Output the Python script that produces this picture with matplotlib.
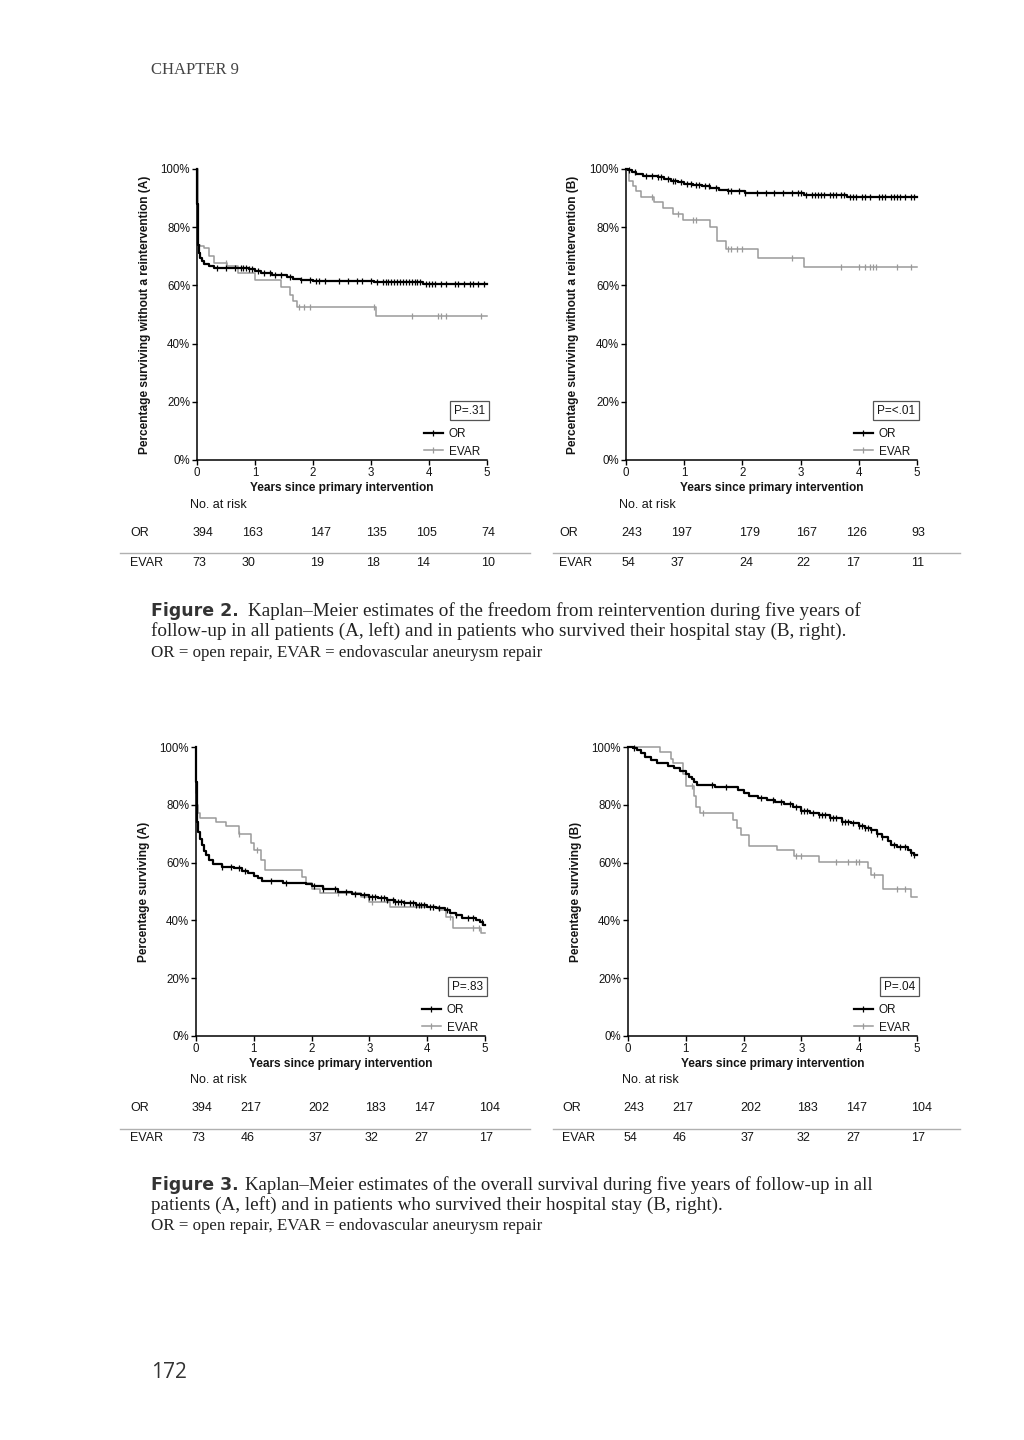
import numpy as np
import matplotlib
matplotlib.use("Agg")
import matplotlib.pyplot as plt
from matplotlib.lines import Line2D
from matplotlib.transforms import blended_transform_factory

plt.rcParams['font.family'] = ['Liberation Sans', 'DejaVu Sans']

# --- data: figure 2 (freedom from reintervention) ---
or2a_t = [0, 0.005, 0.01, 0.02, 0.03, 0.05, 0.08, 0.12, 0.2, 0.3, 0.9, 1.0, 1.1, 1.3, 1.55, 1.65, 1.8, 2.0, 3.05, 3.9, 5.0]
or2a_s = [100, 88, 80, 74, 71, 69.5, 68.5, 67.5, 66.8, 66, 65.5, 64.8, 64.2, 63.5, 63, 62.3, 61.8, 61.5, 61, 60.4, 60.4]
or2a_c = [0.35, 0.5, 0.65, 0.75, 0.8, 0.85, 0.9, 0.95, 1.05, 1.15, 1.25, 1.35, 1.45, 1.6, 1.8, 1.95,
          2.05, 2.1, 2.2, 2.45, 2.6, 2.75, 2.85, 3.0, 3.1, 3.2, 3.25, 3.3, 3.35, 3.4, 3.45, 3.5, 3.55,
          3.6, 3.65, 3.7, 3.75, 3.8, 3.85, 3.95, 4.0, 4.05, 4.1, 4.2, 4.3, 4.45, 4.5, 4.6, 4.7, 4.75, 4.85, 4.95]
evar2a_t = [0, 0.01, 0.06, 0.12, 0.2, 0.3, 0.52, 0.7, 1.0, 1.45, 1.6, 1.66, 1.73, 3.08, 5.0]
evar2a_s = [100, 74, 73.5, 72.8, 70, 67.7, 66.5, 64.2, 61.9, 59.5, 56.8, 54.5, 52.5, 49.6, 49.6]
evar2a_c = [0.5, 1.75, 1.85, 1.95, 3.05, 3.7, 4.15, 4.2, 4.3, 4.9]

or2b_t = [0, 0.04, 0.1, 0.18, 0.3, 0.55, 0.65, 0.78, 0.9, 1.0, 1.15, 1.3, 1.45, 1.6, 1.75, 2.05, 3.05, 3.8, 5.0]
or2b_s = [100, 99.5, 99, 98.3, 97.6, 97.3, 96.7, 96, 95.5, 95, 94.5, 94, 93.4, 92.8, 92.3, 91.6, 91, 90.3, 90.3]
or2b_c = [0.05, 0.15, 0.35, 0.45, 0.55, 0.6, 0.72, 0.8, 0.85, 0.95, 1.05, 1.12, 1.2, 1.25, 1.35, 1.42,
          1.55, 1.75, 1.8, 1.95, 2.05, 2.25, 2.4, 2.55, 2.7, 2.85, 2.95, 3.0, 3.1, 3.2, 3.25, 3.3, 3.35,
          3.4, 3.5, 3.55, 3.6, 3.7, 3.75, 3.85, 3.9, 3.95, 4.05, 4.1, 4.2, 4.35, 4.4, 4.45, 4.55, 4.6,
          4.65, 4.7, 4.8, 4.9, 4.95]
evar2b_t = [0, 0.06, 0.12, 0.17, 0.25, 0.48, 0.64, 0.81, 0.98, 1.44, 1.56, 1.71, 2.27, 3.06, 5.0]
evar2b_s = [100, 96, 94, 92.5, 90.5, 88.6, 86.6, 84.6, 82.6, 80.1, 75.1, 72.6, 69.5, 66.3, 66.3]
evar2b_c = [0.45, 0.9, 1.15, 1.2, 1.75, 1.8, 1.9, 2.0, 2.85, 3.7, 4.0, 4.1, 4.2, 4.25, 4.3, 4.65, 4.9]

# --- data: figure 3 (overall survival) ---
or3a_t = [0, 0.005, 0.01, 0.02, 0.04, 0.07, 0.1, 0.13, 0.17, 0.22, 0.3, 0.45, 0.65, 0.8, 0.9, 1.0, 1.08,
          1.15, 1.5, 1.9, 2.0, 2.2, 2.45, 2.7, 2.85, 3.0, 3.15, 3.3, 3.45, 3.6, 3.8, 4.0, 4.15, 4.3, 4.4,
          4.5, 4.6, 4.85, 4.92, 4.97, 5.0]
or3a_s = [100, 88, 80, 74, 70.5, 68, 66, 64, 62.5, 61, 59.5, 58.5, 58, 57, 56.5, 55.5, 54.5, 53.5, 53,
          52.6, 51.8, 50.8, 50, 49.3, 48.7, 48.2, 47.7, 47, 46.5, 46, 45.3, 44.7, 44.2, 43.5, 42.6, 41.8,
          40.7, 40.2, 39.3, 38.5, 38.5]
or3a_c = [0.45, 0.6, 0.75, 0.85, 1.3, 1.55, 2.05, 2.2, 2.4, 2.6, 2.75, 2.9, 3.0, 3.05, 3.1, 3.2, 3.25,
          3.3, 3.4, 3.45, 3.5, 3.55, 3.6, 3.7, 3.75, 3.8, 3.85, 3.9, 3.95, 4.05, 4.1, 4.2, 4.35, 4.5,
          4.7, 4.8, 4.95]
evar3a_t = [0, 0.005, 0.02, 0.04, 0.07, 0.35, 0.52, 0.75, 0.95, 1.0, 1.13, 1.2, 1.83, 1.9, 2.0, 2.15,
            2.85, 3.0, 3.35, 4.2, 4.32, 4.45, 4.93, 5.0]
evar3a_s = [100, 84, 80, 77, 75.5, 74.1, 72.7, 70, 66.7, 64.2, 61, 57.3, 55, 53, 51, 49.5, 48, 46.2,
            44.8, 43.5, 41.3, 37.5, 35.5, 35.5]
evar3a_c = [0.75, 1.05, 2.45, 3.05, 4.1, 4.4, 4.8, 4.9]

or3b_t = [0, 0.08, 0.15, 0.22, 0.3, 0.4, 0.5, 0.7, 0.8, 0.9, 1.0, 1.05, 1.1, 1.15, 1.2, 1.5, 1.9, 2.0,
          2.1, 2.25, 2.4, 2.55, 2.7, 2.85, 3.0, 3.15, 3.3, 3.5, 3.7, 3.85, 4.0, 4.1, 4.2, 4.3, 4.4, 4.5,
          4.55, 4.65, 4.85, 4.9, 4.95, 5.0]
or3b_s = [100, 99.5, 98.8, 97.8, 96.5, 95.5, 94.3, 93.5, 92.7, 91.8, 90.5, 89.7, 88.8, 87.8, 86.8, 86,
          85.2, 84.2, 83.2, 82.3, 81.7, 81, 80.2, 79.3, 78, 77.2, 76.5, 75.5, 74.2, 73.6, 72.7, 72, 71.2,
          70, 69, 67.5, 66.2, 65.3, 64.5, 63.3, 62.5, 62.5]
or3b_c = [0.1, 1.45, 1.7, 2.3, 2.5, 2.65, 2.8, 2.9, 3.0, 3.05, 3.1, 3.2, 3.3, 3.35, 3.4, 3.5, 3.55, 3.6,
          3.7, 3.75, 3.8, 3.9, 4.0, 4.05, 4.1, 4.15, 4.2, 4.3, 4.4, 4.6, 4.7, 4.8, 4.9, 4.95]
evar3b_t = [0, 0.55, 0.75, 0.78, 0.95, 1.0, 1.15, 1.17, 1.25, 1.82, 1.88, 1.95, 2.1, 2.58, 2.88, 3.3,
            4.15, 4.2, 4.42, 4.9, 5.0]
evar3b_s = [100, 98.2, 96, 94.4, 90.5, 86.6, 83, 79.4, 77.3, 74.8, 72, 69.6, 65.8, 64.2, 62.3, 60.2,
            58, 55.7, 50.7, 48, 48]
evar3b_c = [1.1, 1.3, 2.9, 3.0, 3.6, 3.8, 3.95, 4.0, 4.25, 4.65, 4.8]

# --- number at risk ---
risk_or_2a = [394, 163, 147, 135, 105, 74]
risk_evar_2a = [73, 30, 19, 18, 14, 10]
risk_or_2b = [243, 197, 179, 167, 126, 93]
risk_evar_2b = [54, 37, 24, 22, 17, 11]
risk_or_3a = [394, 217, 202, 183, 147, 104]
risk_evar_3a = [73, 46, 37, 32, 27, 17]
risk_or_3b = [243, 217, 202, 183, 147, 104]
risk_evar_3b = [54, 46, 37, 32, 27, 17]

p_2a, p_2b, p_3a, p_3b = "P=.31", "P=<.01", "P=.83", "P=.04"

ylab_2a = "Percentage surviving without a reintervention (A)"
ylab_2b = "Percentage surviving without a reintervention (B)"
ylab_3a = "Percentage surviving (A)"
ylab_3b = "Percentage surviving (B)"
xlab = "Years since primary intervention"

# column positions of the risk table (years, left edge of the number)
risk_cols = [-0.08, 0.77, 1.95, 2.92, 3.78, 4.9]

W, H = 1024, 1440
fig = plt.figure(figsize=(W / 100, H / 100), dpi=100)
fig.patch.set_facecolor("white")

OR_COL = "black"
EVAR_COL = "#9a9a9a"
TXT = "#151515"


def rect(l, r, t, b):
    return [l / W, 1 - b / H, (r - l) / W, (b - t) / H]


def fy(y):
    return 1 - y / H


def km_panel(box, curves, ylabel, ptxt):
    ax = fig.add_axes(rect(*box))
    for t, s, c, col, lw in curves:
        z = 3 if col == OR_COL else 2
        ax.step(t, s, where="post", color=col, lw=lw, clip_on=False, zorder=z)
        t_arr, s_arr = np.array(t), np.array(s)
        idx = np.searchsorted(t_arr, c, side="right") - 1
        ax.plot(c, s_arr[idx], ls="none", marker="|", ms=4, mew=0.9, color=col,
                clip_on=False, zorder=z)
    ax.set_xlim(0, 5)
    ax.set_ylim(0, 100)
    ax.set_xticks(range(6))
    ax.set_yticks(range(0, 101, 20))
    ax.set_yticklabels([f"{v}%" for v in range(0, 101, 20)])
    for sp in ["top", "right"]:
        ax.spines[sp].set_visible(False)
    for sp in ["left", "bottom"]:
        ax.spines[sp].set_linewidth(1.1)
    ax.tick_params(labelsize=8.3, length=3.5, width=1.0, pad=1.5, color="black", labelcolor=TXT)
    ax.set_ylabel(ylabel, fontsize=8.6, fontweight="bold", color=TXT)
    ax.yaxis.set_label_coords(-0.16, 0.5)
    ax.set_xlabel(xlab, fontsize=8.6, fontweight="bold", labelpad=2, color=TXT)
    ax.patch.set_alpha(0)
    ax.text(0.993, 0.17, ptxt, transform=ax.transAxes, ha="right", va="center", fontsize=8.5,
            color=TXT, bbox=dict(boxstyle="square,pad=0.3", fc="white", ec="#555", lw=0.9))
    h1 = Line2D([], [], color=OR_COL, lw=1.6, marker="|", ms=4, mew=0.9)
    h2 = Line2D([], [], color=EVAR_COL, lw=1.1, marker="|", ms=4, mew=0.9)
    leg = ax.legend([h1, h2], ["OR", "EVAR"], loc="lower right", bbox_to_anchor=(1.0, -0.016),
                    frameon=False, fontsize=8.5, handlelength=1.6, handletextpad=0.5,
                    labelspacing=0.45, borderaxespad=0.2, numpoints=1)
    for t in leg.get_texts():
        t.set_color(TXT)
    return ax


def risk_table(ax, or_vals, evar_vals, y_head, y_or, y_line, y_evar, lab_x, x_head, line_x):
    tr = blended_transform_factory(ax.transData, fig.transFigure)
    fs = 9
    fig.text(x_head / W, fy(y_head), "No. at risk", fontsize=fs, va="center", ha="left", color=TXT)
    fig.text(lab_x / W, fy(y_or), "OR", fontsize=fs, va="center", ha="left", color=TXT)
    fig.text(lab_x / W, fy(y_evar), "EVAR", fontsize=fs, va="center", ha="left", color=TXT)
    for x, a, b in zip(risk_cols, or_vals, evar_vals):
        ax.text(x, fy(y_or), str(a), transform=tr, fontsize=fs, va="center", ha="left", color=TXT)
        ax.text(x, fy(y_evar), str(b), transform=tr, fontsize=fs, va="center", ha="left", color=TXT)
    fig.add_artist(Line2D([line_x[0] / W, line_x[1] / W], [fy(y_line), fy(y_line)],
                          transform=fig.transFigure, color="#b0b0b0", lw=1.0))


# --- figure 2 panels ---
ax2a = km_panel((197, 487, 169, 460),
                [(or2a_t, or2a_s, or2a_c, OR_COL, 1.6), (evar2a_t, evar2a_s, evar2a_c, EVAR_COL, 1.1)],
                ylab_2a, p_2a)
risk_table(ax2a, risk_or_2a, risk_evar_2a, 505, 533, 553, 563, 130, 190, (120, 530))
ax2b = km_panel((626, 917, 169, 460),
                [(or2b_t, or2b_s, or2b_c, OR_COL, 1.6), (evar2b_t, evar2b_s, evar2b_c, EVAR_COL, 1.1)],
                ylab_2b, p_2b)
risk_table(ax2b, risk_or_2b, risk_evar_2b, 505, 533, 553, 563, 559, 619, (553, 960))

# --- figure 3 panels ---
ax3a = km_panel((196, 485, 747, 1036),
                [(or3a_t, or3a_s, or3a_c, OR_COL, 1.6), (evar3a_t, evar3a_s, evar3a_c, EVAR_COL, 1.1)],
                ylab_3a, p_3a)
risk_table(ax3a, risk_or_3a, risk_evar_3a, 1080, 1108, 1129, 1138, 130, 190, (120, 530))
ax3b = km_panel((628, 917, 747, 1036),
                [(or3b_t, or3b_s, or3b_c, OR_COL, 1.6), (evar3b_t, evar3b_s, evar3b_c, EVAR_COL, 1.1)],
                ylab_3b, p_3b)
risk_table(ax3b, risk_or_3b, risk_evar_3b, 1080, 1108, 1129, 1138, 562, 622, (553, 960))

# --- page text ---
serif = ["Liberation Serif", "DejaVu Serif"]
fig.text(151 / W, fy(70), "CHAPTER 9", family=serif, fontsize=12, color="#444", va="center")
fig.text(151 / W, fy(1372), "172", family=["Open Sans", "DejaVu Sans"], fontsize=15, color="#333",
         va="center")

cap_col = "#222"
cap_fs = 13.8
fig.text(151 / W, fy(611), "Figure 2.", family=["DejaVu Sans"], fontweight="bold", fontsize=12.5,
         color="#333", va="center")
fig.text(248 / W, fy(611), "Kaplan–Meier estimates of the freedom from reintervention during five years of",
         family=serif, fontsize=cap_fs, color=cap_col, va="center")
fig.text(151 / W, fy(631), "follow-up in all patients (A, left) and in patients who survived their hospital stay (B, right).",
         family=serif, fontsize=cap_fs, color=cap_col, va="center")
fig.text(151 / W, fy(653), "OR = open repair, EVAR = endovascular aneurysm repair",
         family=serif, fontsize=12.2, color=cap_col, va="center")

fig.text(151 / W, fy(1185), "Figure 3.", family=["DejaVu Sans"], fontweight="bold", fontsize=12.5,
         color="#333", va="center")
fig.text(245 / W, fy(1185), "Kaplan–Meier estimates of the overall survival during five years of follow-up in all",
         family=serif, fontsize=13.5, color=cap_col, va="center")
fig.text(151 / W, fy(1205), "patients (A, left) and in patients who survived their hospital stay (B, right).",
         family=serif, fontsize=cap_fs, color=cap_col, va="center")
fig.text(151 / W, fy(1226), "OR = open repair, EVAR = endovascular aneurysm repair",
         family=serif, fontsize=12.2, color=cap_col, va="center")

fig.savefig("out.png", dpi=100, facecolor="white")
